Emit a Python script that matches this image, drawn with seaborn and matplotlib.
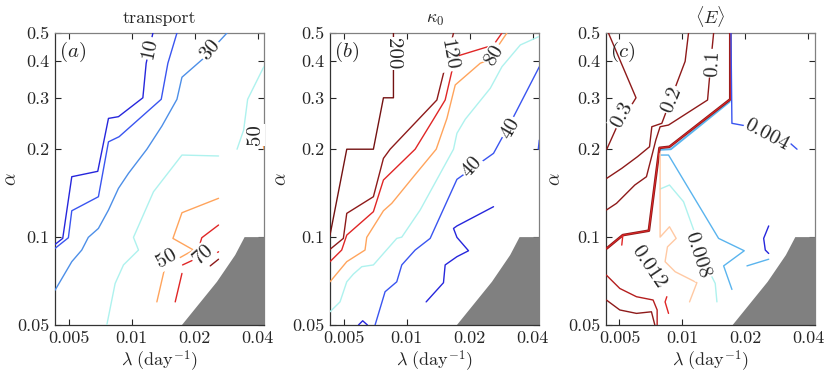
import matplotlib
matplotlib.use("Agg")
import matplotlib.pyplot as plt
from matplotlib.ticker import NullLocator
import seaborn as sns

# ---- data: lambda (day^-1) and alpha along each contour ----
# panel (a) transport
a1_lam = [0.0043, 0.00468, 0.00517, 0.00688, 0.00774, 0.00864, 0.0113, 0.01172, 0.01262]
a1_alp = [0.0944, 0.099, 0.161, 0.168, 0.255, 0.2585, 0.3, 0.394, 0.5]
a2_lam = [0.0043, 0.00498, 0.00517, 0.00693, 0.00774, 0.0087, 0.01383, 0.01488, 0.01644]
a2_alp = [0.0915, 0.0995, 0.1231, 0.1375, 0.212, 0.2207, 0.2965, 0.394, 0.5]
a3_lam = [0.0043, 0.00517, 0.00577, 0.0062, 0.00693, 0.00774, 0.00864, 0.00965, 0.01181,
          0.01393, 0.01644, 0.01737, 0.02203, 0.0285]
a3_alp = [0.0658, 0.0824, 0.0903, 0.0998, 0.1071, 0.1238, 0.1469, 0.1654, 0.2,
          0.24, 0.2965, 0.3528, 0.4095, 0.5]
a4_lam = [0.0076, 0.00833, 0.00913, 0.01077, 0.01019, 0.0127, 0.01737, 0.02598]
a4_alp = [0.05, 0.0694, 0.0803, 0.0903, 0.0998, 0.143, 0.191, 0.1896]
a4b_lam = [0.03184, 0.03424, 0.03578, 0.0424, 0.043]
a4b_alp = [0.2, 0.2326, 0.2965, 0.3787, 0.385]
a5_lam = [0.01318, 0.01445, 0.01973, 0.01573, 0.01737, 0.02598]
a5_alp = [0.06, 0.0797, 0.0903, 0.099, 0.1212, 0.1358]
a5b_lam = [0.0424, 0.0428]
a5b_alp = [0.2095, 0.2]
a6_segs = [([0.01613, 0.01737], [0.06, 0.0751]),
           ([0.01749, 0.01939], [0.0803, 0.0831]),
           ([0.02107, 0.02598], [0.0803, 0.0891]),
           ([0.02124, 0.0216, 0.02598], [0.0955, 0.0995, 0.110])]
a7_lam = [0.02371, 0.02598]
a7_alp = [0.0797, 0.084]
a_labels = [("10", 0.01216, 0.443, 78), ("30", 0.02371, 0.437, 50),
            ("50", 0.03894, 0.2237, 90), ("50", 0.01472, 0.0846, 30),
            ("70", 0.0219, 0.0875, 42)]

# panel (b) kappa_0
b1_lam = [0.0043, 0.00517, 0.00693, 0.00774, 0.00864, 0.00864]
b1_alp = [0.1016, 0.2, 0.2, 0.3, 0.3, 0.5]
b2_lam = [0.0043, 0.00498, 0.00517, 0.00693, 0.00774, 0.00833, 0.01393, 0.01673]
b2_alp = [0.0908, 0.099, 0.1206, 0.1375, 0.1861, 0.2, 0.2948, 0.5]
b3_lam = [0.0043, 0.00489, 0.00517, 0.00693, 0.00774, 0.01097, 0.01342, 0.01526, 0.01705,
          0.02598, 0.0285]
b3_alp = [0.0824, 0.0903, 0.1016, 0.1222, 0.1569, 0.2, 0.2532, 0.2948, 0.4148, 0.455, 0.5]
b4_lam = [0.0043, 0.00517, 0.00632, 0.00644, 0.00774, 0.00848, 0.01077, 0.01383, 0.01556,
          0.01705, 0.02245, 0.0246, 0.0301]
b4_alp = [0.0703, 0.0824, 0.0903, 0.0998, 0.1231, 0.1305, 0.161, 0.2, 0.255,
          0.332, 0.394, 0.4041, 0.5]
b5_lam = [0.0043, 0.0048, 0.00517, 0.00556, 0.0061, 0.00693, 0.00896, 0.00947, 0.01159,
          0.01673, 0.01737, 0.01903, 0.02507, 0.0285, 0.03488, 0.0427]
b5_alp = [0.0555, 0.06, 0.0703, 0.0747, 0.0792, 0.0803, 0.099, 0.1, 0.1238,
          0.2, 0.2267, 0.2532, 0.3234, 0.3833, 0.455, 0.4858]
b6_lam = [0.00706, 0.00788, 0.00896, 0.00947, 0.01097, 0.01294, 0.01737, 0.02598, 0.0324, 0.043]
b6_alp = [0.05, 0.065, 0.0703, 0.0803, 0.0903, 0.099, 0.1577, 0.1936, 0.2585, 0.3833]
b6b_lam = [0.0425, 0.043]
b6b_alp = [0.2, 0.215]
b7_lam = [0.01238, 0.01498, 0.01526, 0.01737, 0.01973, 0.01737, 0.01673, 0.01737, 0.02598]
b7_alp = [0.06, 0.0698, 0.0803, 0.0857, 0.0898, 0.0998, 0.1071, 0.1092, 0.1271]
b8_lam = [0.00588, 0.00616, 0.00649]
b8_alp = [0.05, 0.0517, 0.05]
b_labels = [("200", 0.00864, 0.426, -90), ("120", 0.01583, 0.4204, -80),
            ("80", 0.0262, 0.4204, 60), ("40", 0.02048, 0.1742, 48),
            ("40", 0.03124, 0.2358, 60)]

# panel (c) <E>
c1_lam = [0.00443, 0.006, 0.00552, 0.00486, 0.00435]
c1_alp = [0.5, 0.3, 0.2724, 0.2388, 0.2]
c2_lam = [0.01069, 0.0103, 0.0094, 0.00797, 0.00714, 0.00696, 0.0061, 0.00513, 0.00435]
c2_alp = [0.5, 0.4, 0.3365, 0.2453, 0.2388, 0.2039, 0.1886, 0.172, 0.159]
c3_lam = [0.01409, 0.01383, 0.01318, 0.00858, 0.00782, 0.00746, 0.00719, 0.00673, 0.00592,
          0.00484, 0.00433]
c3_alp = [0.5, 0.437, 0.2948, 0.242, 0.2388, 0.215, 0.1936, 0.161, 0.1508, 0.1305, 0.1238]
c4_lam = [0.01692, 0.01692, 0.00867, 0.00777, 0.00691, 0.00519, 0.00435]
c4_alp = [0.5, 0.2965, 0.2039, 0.2021, 0.1052, 0.1016, 0.0915]
c4s_lam = [0.00519, 0.00513]
c4s_alp = [0.1016, 0.0939]
c4b_lam = [0.0168, 0.0088, 0.00782]
c4b_alp = [0.2909, 0.2, 0.1991]
c5_lam = [0.01705, 0.01723, 0.02033, 0.03275, 0.03526]
c5_alp = [0.5, 0.2453, 0.24, 0.2095, 0.2]
c6_lam = [0.00782, 0.00858, 0.01488, 0.01973, 0.01573, 0.01723]
c6_alp = [0.191, 0.191, 0.099, 0.0898, 0.0797, 0.0662]
c6b_lam = [0.02033, 0.02582]
c6b_alp = [0.0797, 0.084]
c7_lam = [0.00782, 0.00867, 0.01012, 0.01308, 0.01434, 0.01461]
c7_alp = [0.1461, 0.1508, 0.1322, 0.0792, 0.0694, 0.06]
c8_lam = [0.00782, 0.00782, 0.00867, 0.00933, 0.00848, 0.00826, 0.00923, 0.01172, 0.01081]
c8_alp = [0.1936, 0.1, 0.1085, 0.099, 0.0926, 0.0824, 0.0761, 0.0698, 0.06]
c9_lam = [0.00842, 0.00826, 0.00858]
c9_alp = [0.0625, 0.06, 0.0548]
c10a_lam = [0.00433, 0.00502, 0.00603, 0.00724, 0.00757, 0.00757]
c10a_alp = [0.0741, 0.0667, 0.0625, 0.0609, 0.0563, 0.05]
c10b_lam = [0.00433, 0.00502, 0.00603, 0.00711, 0.00738]
c10b_alp = [0.0609, 0.0563, 0.0548, 0.0555, 0.05]
c11_lam = [0.02582, 0.02443, 0.02487, 0.02582]
c11_alp = [0.1092, 0.099, 0.0903, 0.0879]
c_labels = [("0.3", 0.00513, 0.262, 62), ("0.2", 0.0089, 0.2948, 68),
            ("0.1", 0.01393, 0.394, 88), ("0.004", 0.02534, 0.2237, -28),
            ("0.008", 0.01172, 0.0868, -72), ("0.012", 0.00685, 0.0792, -56)]

# excluded region (grey)
mask_lam = [0.01737, 0.02553, 0.0312, 0.0346, 0.043, 0.043]
mask_alp = [0.05, 0.0703, 0.0868, 0.1, 0.1, 0.05]

titles = ["transport", r"$\kappa_0$", r"$\langle E\rangle$"]
letters = [r"$(a)$", r"$(b)$", r"$(c)$"]

# colours
DBLUE = "#2626dc"
BLUE = "#3a55f0"
LBLUE = "#4d8fe8"
SKY = "#5ab4ee"
CYAN = "#aef2ee"
ORANGE = "#ffa45c"
LORANGE = "#ffc9a3"
RED = "#e02626"
DRED = "#8e1a1a"
DDRED = "#741212"

sns.set_style("ticks")
plt.rcParams["font.family"] = "serif"
plt.rcParams["font.serif"] = ["cmr10", "DejaVu Serif"]
plt.rcParams["mathtext.fontset"] = "cm"
plt.rcParams["axes.formatter.use_mathtext"] = True

fig = plt.figure(figsize=(8.3, 3.76), dpi=100)
lefts = [0.0663, 0.3976, 0.7298]
axes = [fig.add_axes([l, 0.1356, 0.2522, 0.7766]) for l in lefts]


def line(ax, lam, alp, color, lw=1.0):
    sns.lineplot(x=lam, y=alp, sort=False, estimator=None, color=color,
                 linewidth=lw, ax=ax, zorder=3)


for ax in axes:
    ax.set_xscale("log")
    ax.set_yscale("log")
    ax.set_xlim(0.0043, 0.043)
    ax.set_ylim(0.05, 0.5)

# (a)
ax = axes[0]
line(ax, a1_lam, a1_alp, DBLUE)
line(ax, a2_lam, a2_alp, BLUE)
line(ax, a3_lam, a3_alp, LBLUE)
line(ax, a4_lam, a4_alp, CYAN)
line(ax, a4b_lam, a4b_alp, CYAN)
line(ax, a5_lam, a5_alp, ORANGE)
line(ax, a5b_lam, a5b_alp, ORANGE)
for lam, alp in a6_segs:
    line(ax, lam, alp, RED)
line(ax, a7_lam, a7_alp, DRED)

# (b)
ax = axes[1]
line(ax, b1_lam, b1_alp, DDRED)
line(ax, b2_lam, b2_alp, DRED)
line(ax, b3_lam, b3_alp, RED)
line(ax, b4_lam, b4_alp, ORANGE)
line(ax, b5_lam, b5_alp, CYAN)
line(ax, b6_lam, b6_alp, BLUE)
line(ax, b6b_lam, b6b_alp, BLUE)
line(ax, b7_lam, b7_alp, DBLUE)
line(ax, b8_lam, b8_alp, DBLUE)

# (c)
ax = axes[2]
line(ax, c1_lam, c1_alp, DRED)
line(ax, c2_lam, c2_alp, DRED)
line(ax, c3_lam, c3_alp, DRED)
line(ax, c4b_lam, c4b_alp, SKY, 1.4)
line(ax, c4_lam, c4_alp, DRED, 1.9)
line(ax, c4_lam, c4_alp, RED, 0.7)
line(ax, c4s_lam, c4s_alp, RED)
line(ax, c5_lam, c5_alp, BLUE)
line(ax, c6_lam, c6_alp, SKY)
line(ax, c6b_lam, c6b_alp, SKY)
line(ax, c7_lam, c7_alp, CYAN)
line(ax, c8_lam, c8_alp, LORANGE)
line(ax, c9_lam, c9_alp, RED)
line(ax, c10a_lam, c10a_alp, "#b51e1e")
line(ax, c10b_lam, c10b_alp, DRED)
line(ax, c11_lam, c11_alp, DBLUE)

ylab_x = [-0.165, -0.19, -0.20]
for ax, labels, title, letter, yx in zip(axes, [a_labels, b_labels, c_labels], titles,
                                         letters, ylab_x):
    ax.fill(mask_lam, mask_alp, color="#808080", lw=0, zorder=2)
    for txt, x, y, rot in labels:
        ax.text(x, y, txt, rotation=rot, rotation_mode="anchor", ha="center", va="center",
                fontsize=15, zorder=5,
                bbox=dict(boxstyle="square,pad=0.05", fc="white", ec="none"))
    ax.text(0.02, 0.975, letter, transform=ax.transAxes, ha="left", va="top", fontsize=15,
            zorder=6)
    ax.set_title(title, fontsize=13, pad=7)
    ax.set_xticks([0.005, 0.01, 0.02, 0.04])
    ax.set_xticklabels(["0.005", "0.01", "0.02", "0.04"])
    ax.set_yticks([0.05, 0.1, 0.2, 0.3, 0.4, 0.5])
    ax.set_yticklabels(["0.05", "0.1", "0.2", "0.3", "0.4", "0.5"])
    ax.xaxis.set_minor_locator(NullLocator())
    ax.yaxis.set_minor_locator(NullLocator())
    ax.tick_params(direction="in", top=True, right=True, length=4, width=0.8,
                   labelsize=13, pad=4)
    ax.set_xlabel(r"$\lambda\ (\mathrm{day}^{-1})$", fontsize=13, labelpad=2)
    ax.set_ylabel(r"$\alpha$", fontsize=14)
    ax.yaxis.set_label_coords(yx, 0.5)
    for side in ["left", "bottom"]:
        ax.spines[side].set_color("0.2")
        ax.spines[side].set_linewidth(0.9)
    for side in ["top", "right"]:
        ax.spines[side].set_color("0.5")
        ax.spines[side].set_linewidth(0.9)

fig.savefig("out.png", dpi=100)
